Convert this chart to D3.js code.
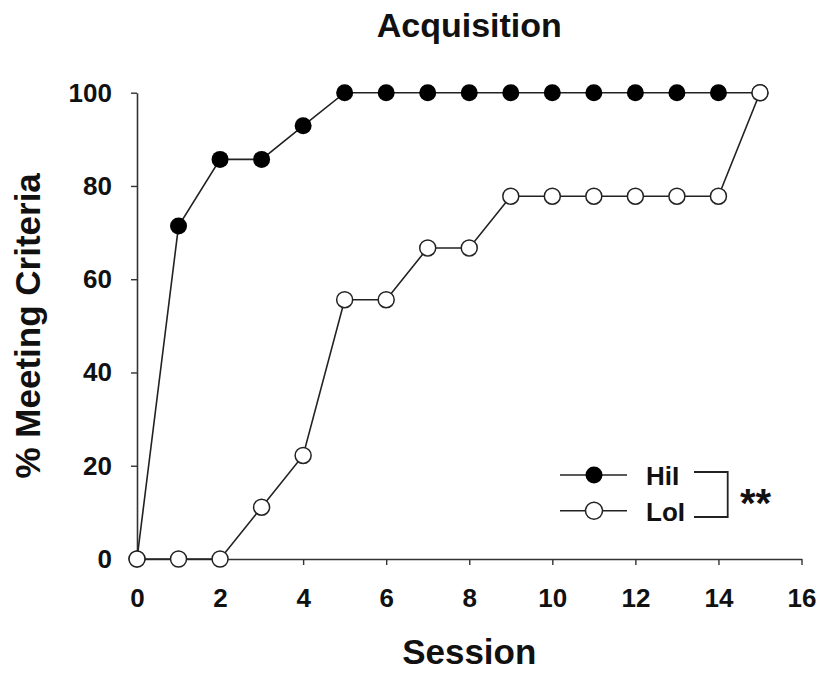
<!DOCTYPE html>
<html>
<head>
<meta charset="utf-8">
<script src="https://cdn.jsdelivr.net/npm/d3@7"></script>
<style>
  body { margin: 0; background: #fff; }
  text { font-family: "Liberation Sans", Arial, sans-serif; font-weight: bold; fill: #111; }
</style>
</head>
<body>
<div id="container"></div>
<script>
// Données
const sessions = [0, 1, 2, 3, 4, 5, 6, 7, 8, 9, 10, 11, 12, 13, 14, 15];
const hiI = [0, 71.4, 85.7, 85.7, 92.9, 100, 100, 100, 100, 100, 100, 100, 100, 100, 100, 100];
const loI = [0, 0, 0, 11.1, 22.2, 55.6, 55.6, 66.7, 66.7, 77.8, 77.8, 77.8, 77.8, 77.8, 77.8, 100];
const xTicks = [0, 2, 4, 6, 8, 10, 12, 14, 16];
const yTicks = [0, 20, 40, 60, 80, 100];
const seriesNames = ["HiI", "LoI"];

const W = 823, H = 673;
const margin = { top: 92.7, right: 21.5, bottom: 114, left: 137 };
const width = W - margin.left - margin.right;
const height = H - margin.top - margin.bottom;

const svg = d3.select("#container")
  .append("svg")
  .attr("width", W)
  .attr("height", H);

const g = svg.append("g")
  .attr("transform", `translate(${margin.left},${margin.top})`);

// Échelles
const x = d3.scaleLinear().domain([0, 16]).range([0, width]);
const y = d3.scaleLinear().domain([0, 100]).range([height, 0]);

// Axes
const xAxis = g.append("g")
  .attr("transform", `translate(0,${height})`)
  .call(d3.axisBottom(x).tickValues(xTicks).tickSize(6).tickPadding(24).tickSizeOuter(0));

const yAxis = g.append("g")
  .call(d3.axisLeft(y).tickValues(yTicks).tickSize(6).tickPadding(19).tickSizeOuter(0));

[xAxis, yAxis].forEach(a => {
  a.select(".domain").attr("stroke", "#333").attr("stroke-width", 1.6);
  a.selectAll(".tick line").attr("stroke", "#333").attr("stroke-width", 1.4);
  a.selectAll(".tick text")
    .attr("fill", "#111")
    .style("font-family", "'Liberation Sans', Arial, sans-serif")
    .style("font-weight", "bold")
    .style("font-size", "26px");
});

// Lignes
const line = d3.line()
  .x((d, i) => x(sessions[i]))
  .y(d => y(d));

// HiI : ligne et cercles pleins
g.append("path")
  .datum(hiI)
  .attr("fill", "none")
  .attr("stroke", "#222")
  .attr("stroke-width", 1.6)
  .attr("d", line);

g.append("path")
  .datum(loI)
  .attr("fill", "none")
  .attr("stroke", "#222")
  .attr("stroke-width", 1.6)
  .attr("d", line);

g.selectAll(".hi")
  .data(hiI)
  .enter()
  .append("circle")
  .attr("class", "hi")
  .attr("cx", (d, i) => x(sessions[i]))
  .attr("cy", d => y(d))
  .attr("r", 8.5)
  .attr("fill", "#000");

g.selectAll(".lo")
  .data(loI)
  .enter()
  .append("circle")
  .attr("class", "lo")
  .attr("cx", (d, i) => x(sessions[i]))
  .attr("cy", d => y(d))
  .attr("r", 8)
  .attr("fill", "#fff")
  .attr("stroke", "#222")
  .attr("stroke-width", 1.5);

// Titres
svg.append("text")
  .attr("x", margin.left + width / 2)
  .attr("y", 37)
  .attr("text-anchor", "middle")
  .style("font-size", "34px")
  .text("Acquisition");

svg.append("text")
  .attr("x", margin.left + width / 2)
  .attr("y", 664)
  .attr("text-anchor", "middle")
  .style("font-size", "35px")
  .text("Session");

svg.append("text")
  .attr("transform", "rotate(-90)")
  .attr("x", -(margin.top + height / 2))
  .attr("y", 40)
  .attr("text-anchor", "middle")
  .style("font-size", "35px")
  .text("% Meeting Criteria");

// Légende
const legend = svg.append("g").attr("transform", "translate(560,475)");
const rows = legend.selectAll(".row")
  .data(seriesNames)
  .enter()
  .append("g")
  .attr("class", "row")
  .attr("transform", (d, i) => `translate(0,${i * 35.7})`);

rows.append("line")
  .attr("x1", 0).attr("x2", 67)
  .attr("stroke", "#222").attr("stroke-width", 1.6);

rows.append("circle")
  .attr("cx", 34)
  .attr("r", 8.5)
  .attr("fill", (d, i) => i === 0 ? "#000" : "#fff")
  .attr("stroke", (d, i) => i === 0 ? "none" : "#222")
  .attr("stroke-width", 1.5);

rows.append("text")
  .attr("x", 86)
  .attr("y", 10)
  .style("font-size", "26px")
  .text(d => d);

// Crochet de significativité
legend.append("path")
  .attr("d", "M134,-3 H167.7 V42 H134")
  .attr("fill", "none")
  .attr("stroke", "#222")
  .attr("stroke-width", 1.8);

legend.append("text")
  .attr("x", 180)
  .attr("y", 42)
  .style("font-size", "40px")
  .text("**");
</script>
</body>
</html>
